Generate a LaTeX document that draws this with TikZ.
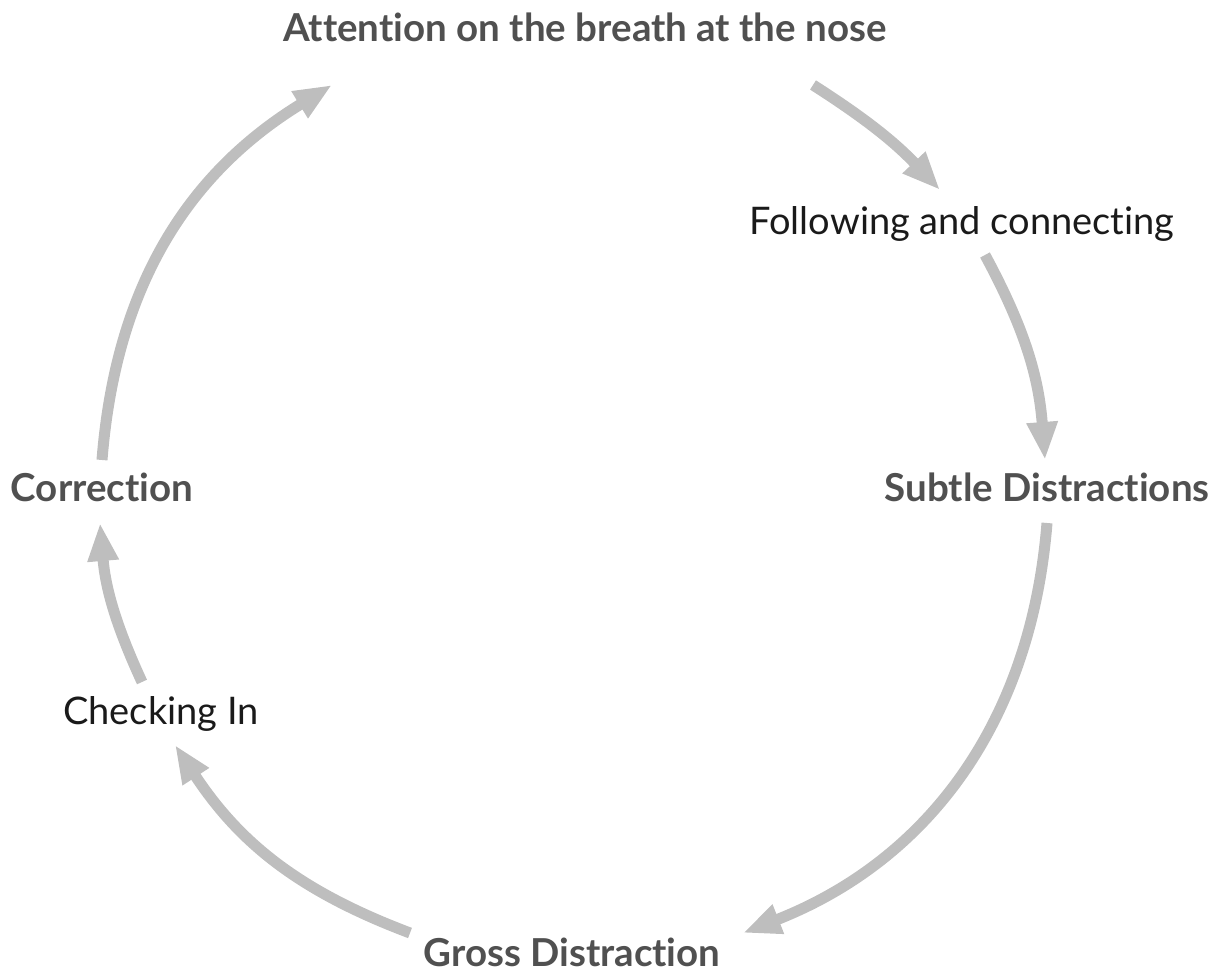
\documentclass[tikz,border=0pt]{standalone}
\usepackage{fontspec}
\setmainfont{Lato}[Ligatures={NoCommon,NoRequired,NoContextual}, RawFeature={-liga;-dlig;-clig}]
\usetikzlibrary{arrows.meta}
\definecolor{arrowgray}{HTML}{BEBEBE}
\definecolor{labgray}{HTML}{505050}
\definecolor{labblack}{HTML}{1A1A1A}
\begin{document}
\begin{tikzpicture}[x=1pt,y=1pt,
  flow/.style={draw=arrowgray, line width=11pt, -{Triangle[length=38pt,width=29pt]}},
  boldlab/.style={font=\fontsize{38.5}{44}\selectfont\bfseries, text=labgray, inner sep=0pt, anchor=base},
  plainlab/.style={font=\fontsize{38}{44}\selectfont, text=labblack, inner sep=0pt, anchor=base}]
\useasboundingbox (0,0) rectangle (1226,973);
\node[boldlab]  (att)  at (585,931) {Attention on the breath at the nose};
\node[plainlab] (fol)  at (962,738) {Following and connecting};
\node[boldlab]  (sub)  at (1047,471) {Subtle Distractions};
\node[boldlab]  (gro)  at (572,6)   {Gross Distraction};
\node[plainlab] (chk)  at (161,248) {Checking In};
\node[boldlab]  (cor)  at (102,471) {Correction};
\coordinate (a1s) at (813,888); \coordinate (a1e) at (940,783);
\coordinate (a2s) at (985,718); \coordinate (a2e) at (1045,513);
\coordinate (a3s) at (1047,450); \coordinate (a3e) at (743,40);
\coordinate (a4s) at (410,40);  \coordinate (a4e) at (175,228);
\coordinate (a5s) at (142,291); \coordinate (a5e) at (100,450);
\coordinate (a6s) at (102,513); \coordinate (a6e) at (332,888);
\draw[flow] (a1s) to[bend left=7] (a1e);
\draw[flow] (a2s) to[bend left=12] (a2e);
\draw[flow] (a3s) to[bend left=32] (a3e);
\draw[flow] (a4s) to[bend left=18] (a4e);
\draw[flow] (a5s) to[bend left=10] (a5e);
\draw[flow] (a6s) to[bend left=27] (a6e);
\end{tikzpicture}
\end{document}
